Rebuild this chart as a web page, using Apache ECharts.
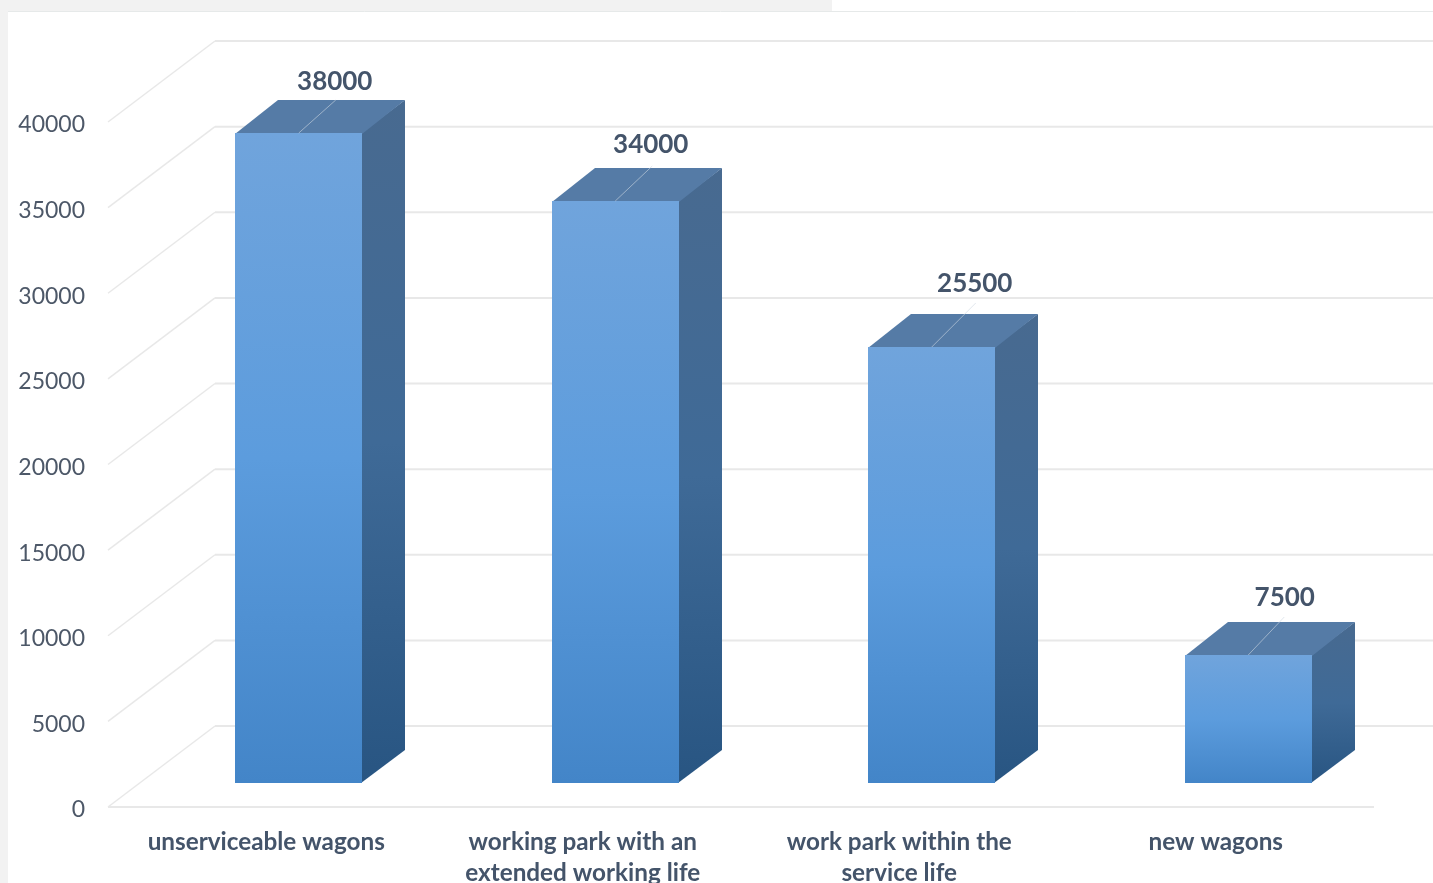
<!DOCTYPE html>
<html><head><meta charset="utf-8">
<style>html,body{margin:0;padding:0;background:#fff}#c{width:1433px;height:883px}</style>
<script src="https://cdn.jsdelivr.net/npm/echarts@6/dist/echarts.min.js"></script>
</head><body><div id="c"></div>
<script>
const categories = ['unserviceable wagons', 'working park with an\nextended working life', 'work park within the\nservice life', 'new wagons'];
const values = [38000, 34000, 25500, 7500];
const yTicks = [0, 5000, 10000, 15000, 20000, 25000, 30000, 35000, 40000];
const labelShiftX = [36, 35.5, 43, 36.5];
const labelShiftY = [-51, -56, -63, -57];
const leaderTipX = [37, 37, 44, 36];
const leaderTipY = [-33, -35, -44, -38];

const FONT = 'Lato, "Noto Sans", sans-serif';
const TEXT = '#44546a';
const AXIS_TEXT = '#4d5868';
const GRID = '#e8e8e8';
const WALL = [107, -81], DEPTH = [43, -33], FLOOR_DY = -24, BAR_DX = 32.5, SCALE = 0.999;
const lg = (x2, y2, stops) => ({type:'linear', x:0, y:0, x2, y2, colorStops: stops.map((c,i)=>({offset:i/(stops.length-1), color:c}))});

function renderWall(params, api) {
  const p = api.coord([0, api.value(1)]);
  const cs = params.coordSys;
  const x0 = cs.x, y = p[1];
  const style = {stroke: GRID, lineWidth: 2, fill: null};
  const children = [
    {type:'line', shape:{x1:x0, y1:y, x2:x0+WALL[0], y2:y+WALL[1]}, style:{stroke:GRID, lineWidth:1.5}},
    {type:'line', shape:{x1:x0+WALL[0], y1:y+WALL[1], x2:1433, y2:y+WALL[1]}, style}
  ];
  if (api.value(1) === 0) children.push({type:'line', shape:{x1:x0, y1:y, x2:cs.x+cs.width, y2:y}, style});
  return {type:'group', children};
}

function renderBar(params, api) {
  const i = params.dataIndex;
  const v = api.value(1);
  const base = api.coord([i, 0]);
  const top = api.coord([i, v]);
  const w = Math.round(api.size([1, 0])[0] * 0.4);
  const cx = base[0] + BAR_DX;
  const l = Math.round(cx - w/2), r = l + w;
  const yb = Math.round(base[1] + FLOOR_DY);
  const yt = Math.round(yb - (base[1] - top[1]) * SCALE);
  const [dx, dy] = DEPTH;
  return {type:'group', children:[
    {type:'polygon', shape:{points:[[r-1,yt],[r+dx,yt+dy],[r+dx,yb+dy],[r-1,yb]]},
      style:{fill: lg(0,1,['#486a90','#3f6a97','#285582'])}},
    {type:'polygon', shape:{points:[[l,yt+1],[l+dx,yt+dy],[r+dx,yt+dy],[r,yt+1]]},
      style:{fill:'#557ba6'}},
    {type:'rect', shape:{x:l, y:yt, width:r-l, height:yb-yt},
      style:{fill: lg(0,1,['#70a4dc','#5c9cdd','#4385c8'])}},
    {type:'line', shape:{x1:cx, y1:yt, x2:cx+leaderTipX[i], y2:yt+leaderTipY[i]},
      style:{stroke:'rgba(205,215,225,0.6)', lineWidth:1}},
    {type:'text', x:cx+labelShiftX[i], y:yt+labelShiftY[i],
      style:{text:String(v), font:'bold 26px '+FONT, fill:TEXT, align:'center', verticalAlign:'middle'}}
  ]};
}

const chart = echarts.init(document.getElementById('c'), null, {renderer:'canvas'});
chart.setOption({
  animation:false,
  backgroundColor:'#ffffff',
  graphic:[
    {type:'rect', z:-1, shape:{x:0,y:0,width:832,height:11}, style:{fill:'#f2f2f2'}},
    {type:'rect', z:-1, shape:{x:0,y:0,width:8,height:883}, style:{fill:'#f2f2f2'}},
    {type:'line', z:-1, shape:{x1:8,y1:11.5,x2:1433,y2:11.5}, style:{stroke:'#e6e9e9',lineWidth:1}}
  ],
  grid:{left:108, right:59, top:122, bottom:76, containLabel:false, outerBoundsMode:'none'},
  xAxis:{type:'category', data:categories, axisLine:{show:false}, axisTick:{show:false}, splitLine:{show:false},
    axisLabel:{interval:0, margin:20, fontFamily:FONT, fontSize:24.3, fontWeight:'bold', color:TEXT, lineHeight:31, align:'center'}},
  yAxis:{type:'value', min:0, max:40000, interval:5000, axisLine:{show:false}, axisTick:{show:false}, splitLine:{show:false},
    axisLabel:{margin:23, fontFamily:FONT, fontSize:23, color:AXIS_TEXT, verticalAlign:'top', lineHeight:6, formatter:v=>String(v)}},
  series:[
    {type:'custom', name:'wall', z:1, silent:true, renderItem:renderWall, encode:{x:0,y:1}, data:yTicks.map(t=>[0,t])},
    {type:'custom', name:'bars', z:2, renderItem:renderBar, encode:{x:0,y:1}, data:values.map((v,i)=>[i,v])}
  ]
});
</script></body></html>
